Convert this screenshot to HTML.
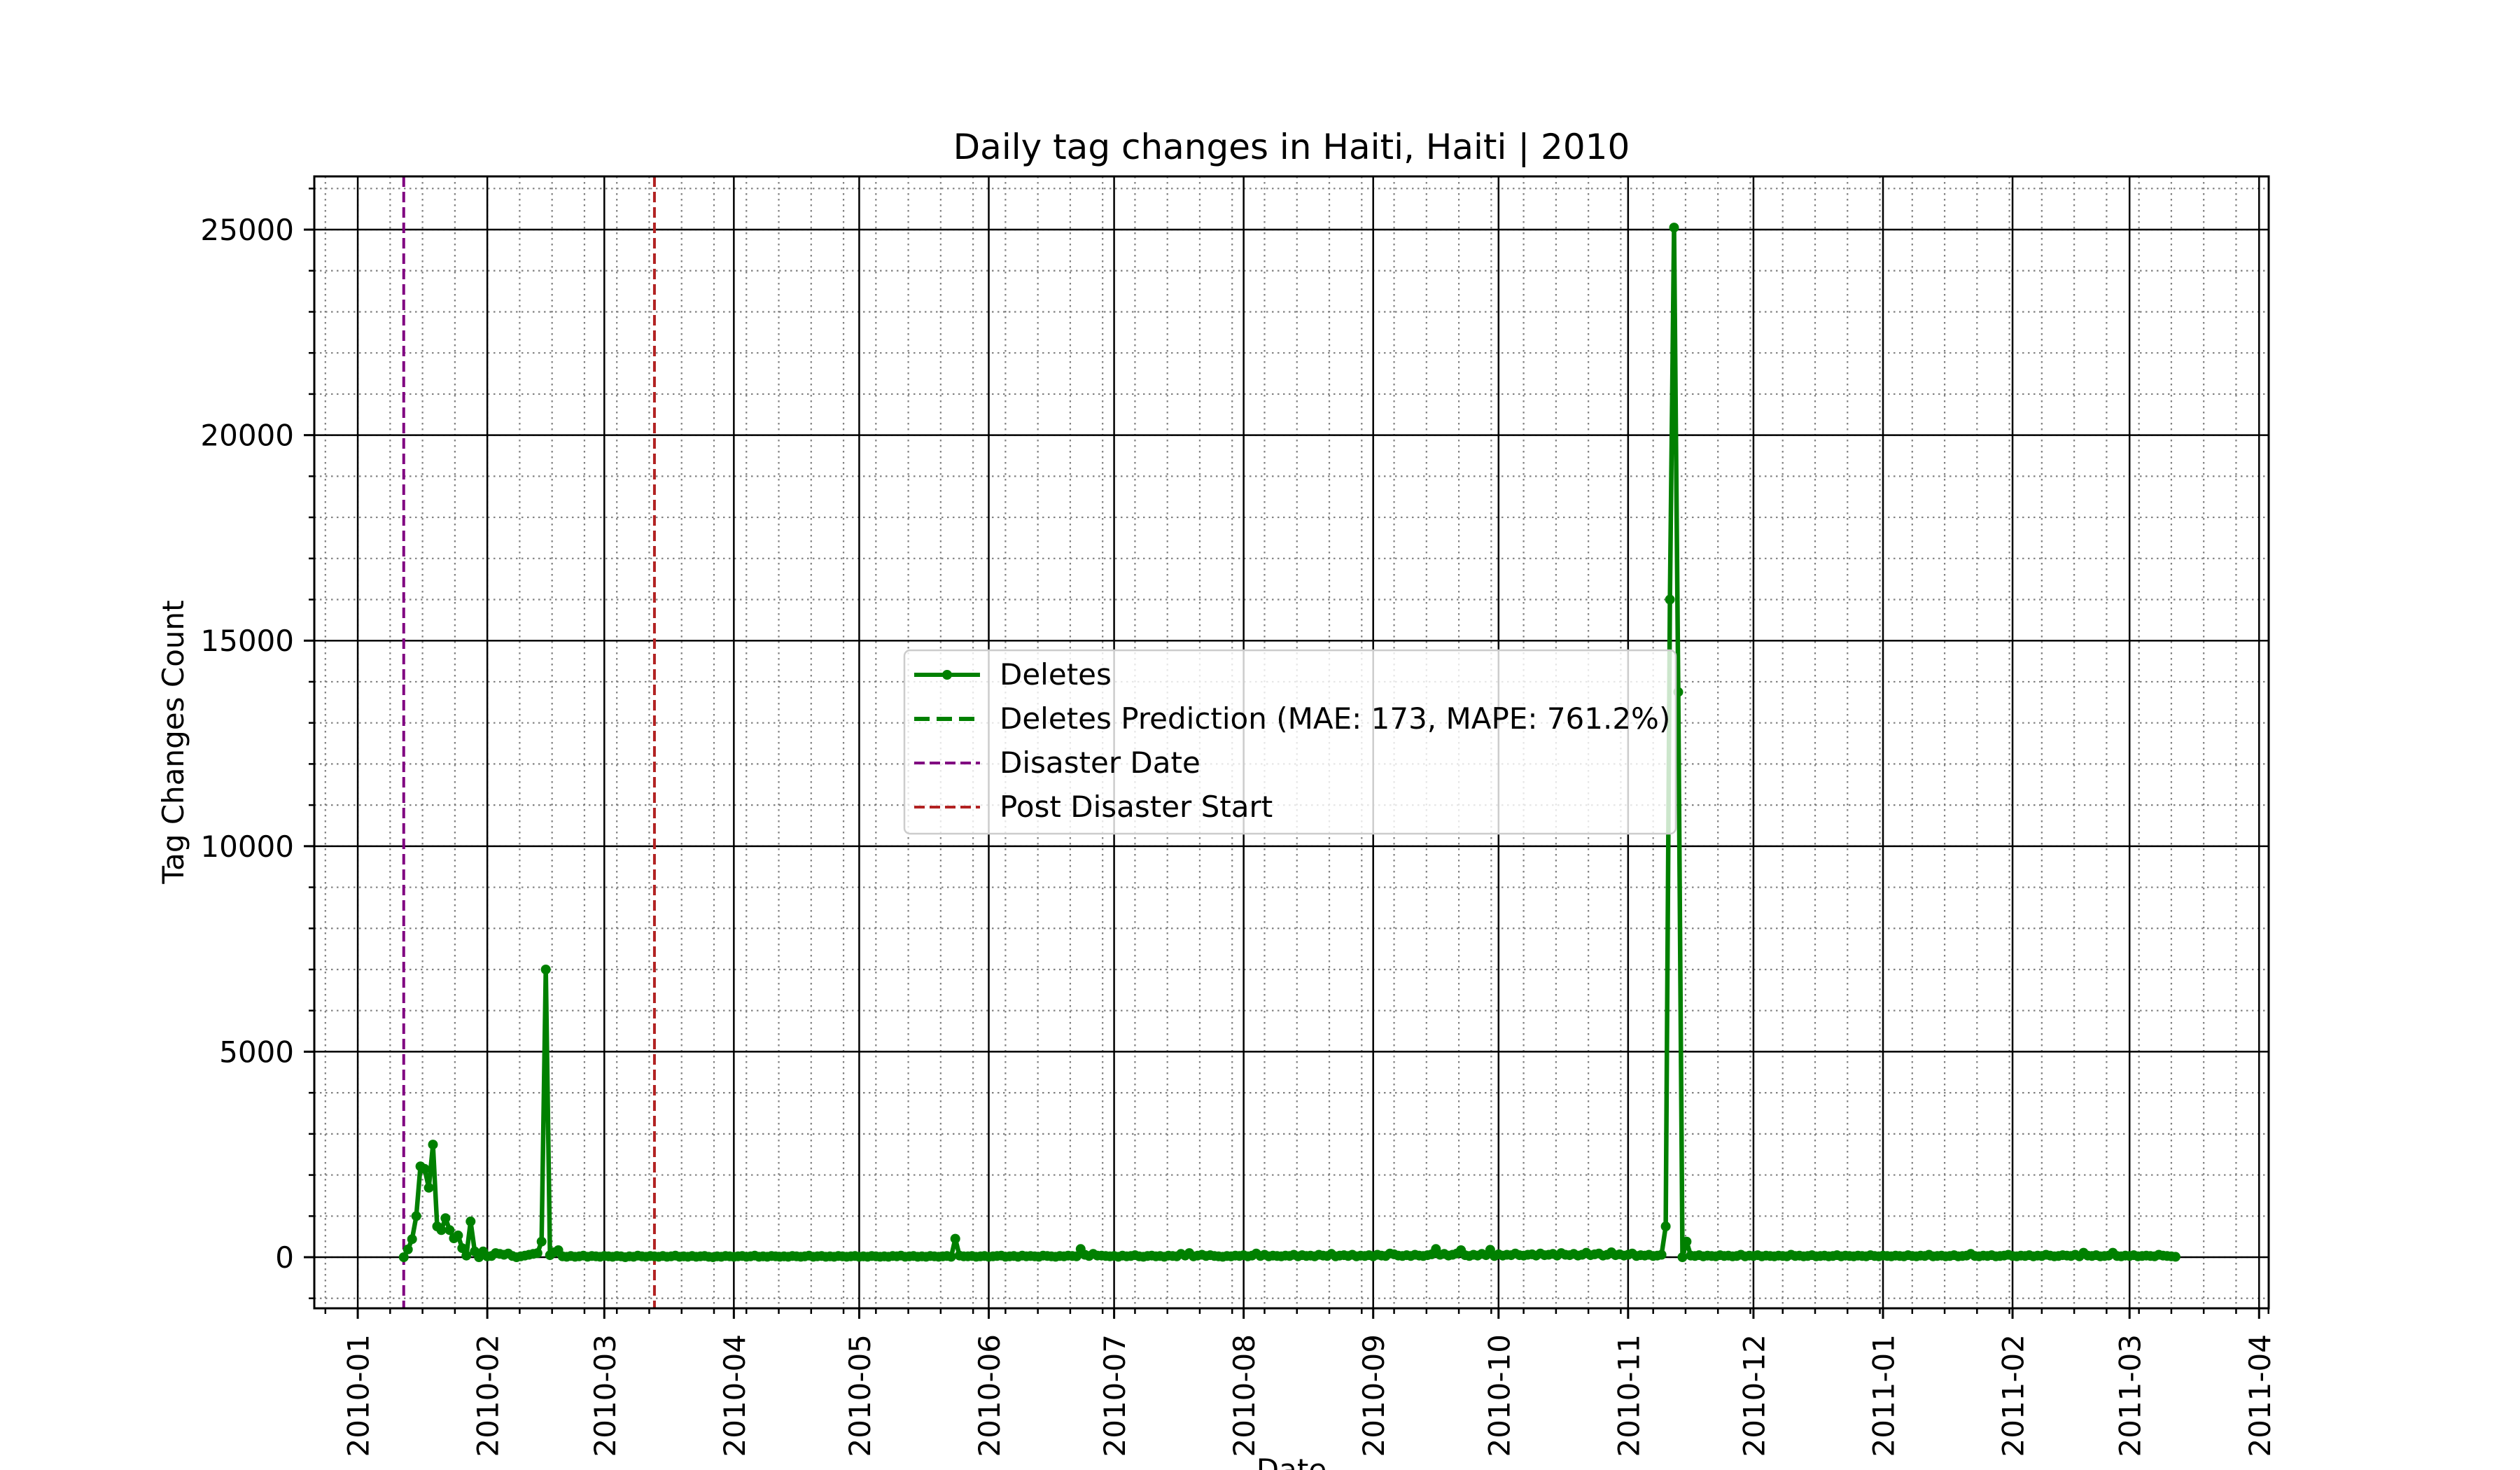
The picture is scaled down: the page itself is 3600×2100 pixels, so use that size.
<!DOCTYPE html>
<html><head><meta charset="utf-8"><style>
html,body{margin:0;padding:0;background:#fff}
svg{display:block;font-family:"DejaVu Sans","Liberation Sans",sans-serif}
</style></head><body>
<svg id="chart" width="3600" height="2100" viewBox="0 0 3600 2100" xmlns="http://www.w3.org/2000/svg">
<rect width="3600" height="2100" fill="#fff"/>
<g id="grid"></g>
<g id="ticks"></g>
<g id="vlines"></g>
<g id="series"></g>
<rect x="449" y="252" width="2792" height="1617" fill="none" stroke="#000" stroke-width="3"/>
<text x="1845" y="227" font-size="50" text-anchor="middle">Daily tag changes in Haiti, Haiti | 2010</text>
<text transform="translate(262,1060) rotate(-90)" font-size="42" text-anchor="middle">Tag Changes Count</text>
<text x="1845" y="2114" font-size="42" text-anchor="middle">Date</text>
<g>
<rect x="1292" y="929" width="1102" height="262" rx="8" fill="#fff" fill-opacity="0.8" stroke="#ccc" stroke-width="2.5"/>
<g>
<line x1="1306" y1="964" x2="1400" y2="964" stroke="#008000" stroke-width="6"/><circle cx="1353" cy="964" r="7" fill="#008000"/>
<text x="1428" y="978" font-size="42">Deletes</text></g>
<g>
<line x1="1306" y1="1027" x2="1400" y2="1027" stroke="#008000" stroke-width="6" stroke-dasharray="22,10"/>
<text x="1428" y="1041" font-size="42">Deletes Prediction (MAE: 173, MAPE: 761.2%)</text></g>
<g>
<line x1="1306" y1="1090" x2="1400" y2="1090" stroke="#800080" stroke-width="4" stroke-dasharray="15,7"/>
<text x="1428" y="1104" font-size="42">Disaster Date</text></g>
<g>
<line x1="1306" y1="1153" x2="1400" y2="1153" stroke="#b22222" stroke-width="4" stroke-dasharray="15,7"/>
<text x="1428" y="1167" font-size="42">Post Disaster Start</text></g>
</g>
</svg>
<script>
const startDate = '2010-01-12';
const deletes = [
0,190,440,1000,2210,2150,1690,2740,750,660,
950,660,460,530,220,40,870,140,0,140,
20,30,100,80,60,90,30,0,20,40,
60,80,100,380,7000,50,120,170,20,10,
30,10,20,40,10,30,20,10,30,20,
10,30,20,0,20,10,40,20,10,30,
20,10,30,10,20,40,10,20,10,30,
10,20,30,10,0,20,10,30,20,10,
20,30,10,20,40,10,20,10,30,20,
10,20,10,30,20,10,20,40,10,20,
30,10,20,10,30,20,10,20,30,10,
20,10,30,20,10,20,10,30,20,40,
10,20,30,10,20,10,30,20,10,20,
30,10,450,40,20,20,30,10,20,30,
10,20,30,40,10,20,30,10,40,20,
30,20,10,40,30,20,10,30,20,40,
30,20,200,60,30,80,40,40,30,20,
30,10,40,20,30,50,20,10,30,40,
20,30,10,40,30,20,80,40,100,20,
40,60,30,50,30,20,10,30,20,40,
30,50,20,40,90,30,60,20,40,30,
20,40,30,60,20,50,30,40,20,60,
40,30,80,20,40,50,30,60,20,40,
30,50,20,60,40,30,90,70,40,30,
50,30,60,40,30,50,70,200,60,80,
40,60,90,170,50,30,60,40,80,50,
180,30,70,40,60,50,90,50,40,60,
70,40,90,50,60,80,40,100,60,50,
80,40,60,110,50,70,90,40,60,120,
50,70,40,60,90,30,50,40,60,30,
40,
60,750,16000,25050,13750,0,380,
40,30,50,20,40,30,20,50,30,
40,20,30,60,20,40,30,50,20,40,
30,20,40,30,20,60,30,40,20,30,
50,20,30,40,20,30,50,20,40,30,
20,40,30,20,50,30,20,40,30,20,
40,30,20,50,30,20,40,30,60,20,
30,40,20,30,50,20,30,40,80,30,
20,40,30,50,20,30,40,60,30,20,
40,30,50,20,40,30,60,40,20,30,
50,40,30,60,20,110,40,30,50,20,
30,40,110,30,20,40,30,50,20,30,
40,30,20,60,40,30,20,10
];
const xTickLabels = ['2010-01','2010-02','2010-03','2010-04','2010-05','2010-06','2010-07','2010-08','2010-09','2010-10','2010-11','2010-12','2011-01','2011-02','2011-03','2011-04'];
const yTicks = [0,5000,10000,15000,20000,25000];
const disasterDate = '2010-01-12';
const postDisasterDate = '2010-03-13';

const NS='http://www.w3.org/2000/svg';
const L=449,R=3241,T=252,B=1869;
const DAY=86400000, origin=Date.UTC(2010,0,1);
const xMin=-10.4, xMax=457.3, yMin=-1243, yMax=26295;
function dayOf(s){const p=s.split('-').map(Number);return (Date.UTC(p[0],p[1]-1,p[2]||1)-origin)/DAY;}
function X(d){return L+(d-xMin)/(xMax-xMin)*(R-L);}
function Y(v){return B-(v-yMin)/(yMax-yMin)*(B-T);}
function mk(tag,attrs,parent){const e=document.createElementNS(NS,tag);for(const k in attrs)e.setAttribute(k,attrs[k]);parent.appendChild(e);return e;}
const grid=document.getElementById('grid'),ticks=document.getElementById('ticks'),vl=document.getElementById('vlines'),ser=document.getElementById('series');

const step=31/4;
for(let k=-1;k<60;k++){const d=k*step;if(d<xMin||d>xMax)continue;const x=X(d);
 const g=mk('line',{x1:x,x2:x,y1:T,y2:B,stroke:'#808080','stroke-width':2.2,'stroke-dasharray':'2.5,5.5'},grid);
 
 
 const t=mk('line',{x1:x,x2:x,y1:B,y2:B+8,stroke:'#000','stroke-width':2.5},ticks);
 
 }
for(let v=-1000;v<=26000;v+=1000){const y=Y(v);
 const g=mk('line',{x1:L,x2:R,y1:y,y2:y,stroke:'#808080','stroke-width':2.2,'stroke-dasharray':'2.5,5.5'},grid);
 
 
 const t=mk('line',{x1:L-8,x2:L,y1:y,y2:y,stroke:'#000','stroke-width':2.5},ticks);
 
 }
xTickLabels.forEach(s=>{const x=X(dayOf(s+'-01'));
 const g=mk('line',{x1:x,x2:x,y1:T,y2:B,stroke:'#000','stroke-width':2.5},grid);
 
 
 const t=mk('line',{x1:x,x2:x,y1:B,y2:B+15,stroke:'#000','stroke-width':3},ticks);
 
 
 const tx=mk('text',{transform:`translate(${x+1},1906) rotate(-90)`,'font-size':42,'text-anchor':'end','dominant-baseline':'central'},ticks);
 tx.textContent=s;
 
 });
yTicks.forEach(v=>{const y=Y(v);
 const g=mk('line',{x1:L,x2:R,y1:y,y2:y,stroke:'#000','stroke-width':2.5},grid);
 
 
 const t=mk('line',{x1:L-15,x2:L,y1:y,y2:y,stroke:'#000','stroke-width':3},ticks);
 
 
 const tx=mk('text',{x:420,y:y+15,'font-size':42,'text-anchor':'end'},ticks);
 tx.textContent=String(v);
 
 });
[[disasterDate,'#800080','disaster-date-line'],[postDisasterDate,'#b22222','post-disaster-line']].forEach(([d,c,n])=>{
 const x=X(dayOf(d));
 const l=mk('line',{x1:x,x2:x,y1:T,y2:B,stroke:c,'stroke-width':4,'stroke-dasharray':'15,7'},vl);
 
 });
const d0=dayOf(startDate);
const pts=deletes.map((v,i)=>[X(d0+i),Y(v)]);
const pl=mk('polyline',{points:pts.map(p=>p[0].toFixed(1)+','+p[1].toFixed(1)).join(' '),fill:'none',stroke:'#008000','stroke-width':6.5,'stroke-linejoin':'round'},ser);


pts.forEach(p=>{const c=mk('circle',{cx:p[0].toFixed(1),cy:p[1].toFixed(1),r:7,fill:'#008000'},ser);
 
 });
</script>
</body></html>
